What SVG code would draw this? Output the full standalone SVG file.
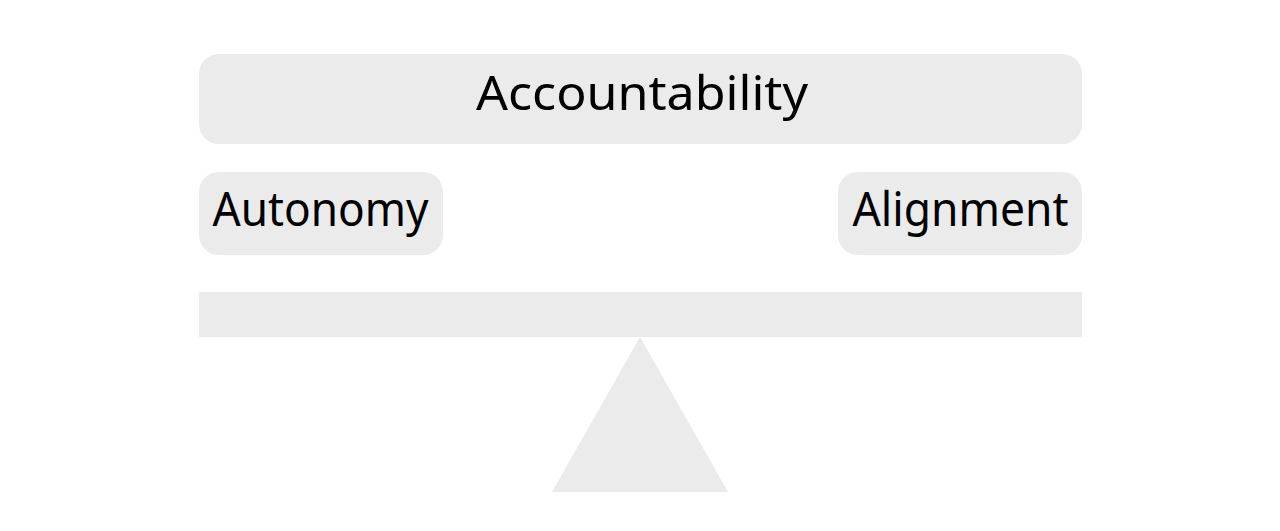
<svg xmlns="http://www.w3.org/2000/svg" width="1280" height="531" viewBox="0 0 1280 531">
<style>
.box{fill:#ebebeb}
.lbl{font-family:"Noto Sans","DejaVu Sans",sans-serif;font-size:48px;fill:#000;text-anchor:middle}
</style>
<rect width="1280" height="531" fill="#fff"/>
<g id="accountability"><rect class="box" x="199" y="54" width="883" height="90" rx="20"/><text class="lbl" x="642" y="110" textLength="332" lengthAdjust="spacingAndGlyphs">Accountability</text></g>
<g id="autonomy"><rect class="box" x="199" y="172" width="244" height="83" rx="20"/><text class="lbl" x="320.5" y="226" textLength="216" lengthAdjust="spacingAndGlyphs">Autonomy</text></g>
<g id="alignment"><rect class="box" x="838" y="172" width="244" height="83" rx="20"/><text class="lbl" x="960.5" y="226" textLength="216" lengthAdjust="spacingAndGlyphs">Alignment</text></g>
<g id="beam"><rect class="box" x="199" y="292" width="883" height="45"/></g>
<g id="fulcrum"><polygon class="box" points="640,337 728,492 552,492"/></g>
<g id="connectors"></g>
</svg>
